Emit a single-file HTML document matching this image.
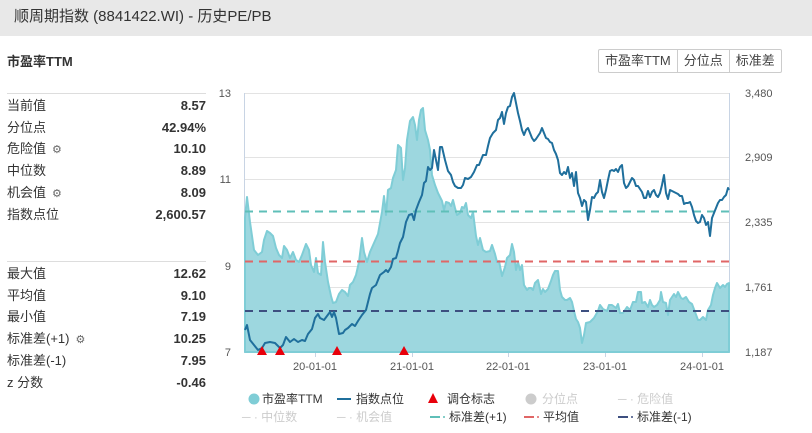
<!DOCTYPE html>
<html><head><meta charset="utf-8"><style>
body{margin:0;width:812px;height:433px;background:#fff;font-family:"Liberation Sans","Noto Sans CJK SC",sans-serif;position:relative;overflow:hidden;color:#333}
.hdr{position:absolute;left:0;top:0;width:812px;height:36px;background:#e8e8e8;font-size:15px;line-height:34px;padding-left:14px;box-sizing:border-box;color:#333}
.ttl{position:absolute;left:7px;top:51px;font-size:13px;font-weight:bold}
.btns{position:absolute;left:598px;top:49px;display:flex;border:1px solid #ccc;border-radius:2px}
.btns div{font-size:13px;padding:0 6px;height:22px;line-height:22px;border-left:1px solid #ccc;color:#444}
.btns div:first-child{border-left:none}
.row{position:absolute;left:7px;width:199px;font-size:13px;height:20px;line-height:20px}
.row b{position:absolute;right:0;top:0}
.sep{position:absolute;left:7px;width:199px;height:1px;background:#ddd}
.g{display:inline-block;font-size:11px;color:#666;margin-left:6px}
</style></head><body>
<div class="hdr">顺周期指数 (8841422.WI) - 历史PE/PB</div>
<div class="ttl">市盈率TTM</div>
<div class="btns"><div>市盈率TTM</div><div>分位点</div><div>标准差</div></div>
<div class="sep" style="top:93px"></div>
<div class="row" style="top:96px">当前值<b>8.57</b></div>
<div class="row" style="top:118px">分位点<b>42.94%</b></div>
<div class="row" style="top:139px">危险值<span class="g">⚙</span><b>10.10</b></div>
<div class="row" style="top:161px">中位数<b>8.89</b></div>
<div class="row" style="top:183px">机会值<span class="g">⚙</span><b>8.09</b></div>
<div class="row" style="top:205px">指数点位<b>2,600.57</b></div>
<div class="sep" style="top:261px"></div>
<div class="row" style="top:264px">最大值<b>12.62</b></div>
<div class="row" style="top:286px">平均值<b>9.10</b></div>
<div class="row" style="top:307px">最小值<b>7.19</b></div>
<div class="row" style="top:329px">标准差(+1)<span class="g">⚙</span><b>10.25</b></div>
<div class="row" style="top:351px">标准差(-1)<b>7.95</b></div>
<div class="row" style="top:373px">z 分数<b>-0.46</b></div>
<svg style="position:absolute;left:0;top:0" width="812" height="433" font-family="Liberation Sans,Noto Sans CJK SC,sans-serif">
<g stroke="#e3e3e3" stroke-width="1">
<line x1="245" y1="93.5" x2="729" y2="93.5"/><line x1="245" y1="179.5" x2="729" y2="179.5"/><line x1="245" y1="266.5" x2="729" y2="266.5"/>
<line x1="245" y1="157.5" x2="729" y2="157.5"/><line x1="245" y1="222.5" x2="729" y2="222.5"/><line x1="245" y1="287.5" x2="729" y2="287.5"/>
</g>
<line x1="244.5" y1="93" x2="244.5" y2="352" stroke="#c8d4e4"/>
<line x1="729.5" y1="93" x2="729.5" y2="352" stroke="#c8d4e4"/>
<line x1="244" y1="352.5" x2="730" y2="352.5" stroke="#c8d4e4"/>
<g stroke="#c8d4e4"><line x1="315.5" y1="352" x2="315.5" y2="357"/><line x1="412.5" y1="352" x2="412.5" y2="357"/><line x1="508.5" y1="352" x2="508.5" y2="357"/><line x1="605.5" y1="352" x2="605.5" y2="357"/><line x1="702.5" y1="352" x2="702.5" y2="357"/></g>
<polygon fill="#9dd7df" stroke="#7fcdd6" stroke-width="2" stroke-linejoin="round" points="245,352 245,218 247,197 250,222 254,250 258,255 262,252 264,240 267,231 270,233 273,236 276,248 279,255 282,258 284,246 287,250 290,258 293,252 296,260 299,262 302,255 306,244 309,250 311,265 314,272 316,258 318,273 321,275 323,242 325,262 328,282 331,296 333,303 336,302 339,294 342,290 345,292 348,296 350,285 353,282 356,275 359,262 362,238 364,252 367,262 370,252 374,243 378,234 382,212 384,196 386,215 388,190 391,188 393,178 396,170 398,145 401,148 403,180 405,168 407,140 410,121 413,117 415,125 417,140 419,120 421,110 423,108 425,130 428,140 430,150 432,175 435,185 438,193 442,201 444,210 446,202 449,203 451,206 453,200 455,208 457,215 460,213 462,207 464,208 466,203 468,215 471,218 473,212 476,236 478,245 480,238 483,250 486,252 490,251 492,245 495,254 497,262 499,261 502,276 505,267 507,258 510,255 512,244 514,252 516,270 518,262 520,270 522,265 524,285 527,290 529,288 531,288 533,290 535,283 538,280 541,294 543,289 545,292 548,289 551,281 553,275 555,271 558,271 560,290 562,297 565,300 567,300 570,298 572,302 574,311 576,319 578,322 580,328 582,343 584,335 586,323 590,322 594,318 598,311 600,305 603,309 607,311 609,305 612,305 616,308 618,304 620,313 623,313 627,307 630,310 633,302 636,302 638,292 641,292 642,303 645,302 648,307 650,300 652,305 654,307 657,305 660,300 661,292 663,302 666,303 668,315 670,300 672,297 674,294 676,297 678,292 681,298 683,299 686,297 689,302 692,304 695,312 698,320 700,320 703,317 706,320 708,310 711,305 713,295 715,288 717,283 720,288 723,285 725,287 727,284 729,283 729,352"/>
<g stroke-width="2" stroke-dasharray="8,6" fill="none">
<line x1="245" y1="211.5" x2="729" y2="211.5" stroke="#5fbfb8"/>
<line x1="245" y1="261.5" x2="729" y2="261.5" stroke="#e06666"/>
<line x1="245" y1="311" x2="729" y2="311" stroke="#3d4f80"/>
</g>
<polyline fill="none" stroke="#1f6f9c" stroke-width="2" stroke-linejoin="round" points="245,330 247,325 250,340 254,345 258,350 262,348 265,343 270,342 275,343 280,348 283,345 286,337 290,342 294,339 298,342 302,340 305,341 308,334 312,329 315,318 318,314 320,318 324,320 327,316 330,312 332,317 334,312 336,318 339,334 343,333 345,330 348,328 352,324 355,326 358,321 362,315 366,310 368,302 370,294 372,288 376,285 380,275 384,272 386,270 388,272 391,267 393,259 396,258 398,251 400,243 403,237 406,222 409,215 412,214 414,220 416,210 419,202 422,195 424,183 426,181 428,167 430,170 432,168 434,150 436,160 438,170 440,147 442,147 445,160 448,171 451,175 453,182 455,186 458,188 461,188 463,185 465,178 468,179 471,177 474,172 477,165 479,165 481,160 483,155 486,155 488,146 490,138 493,133 496,130 498,120 500,118 502,112 504,124 506,113 508,107 510,106 512,97 514,93 516,103 518,113 520,121 522,130 524,135 526,130 528,128 530,133 532,138 534,141 536,139 538,136 540,133 542,128 544,133 546,138 548,139 550,142 552,143 554,150 556,154 558,160 560,173 562,175 564,172 566,174 568,167 570,178 572,173 574,186 576,172 578,193 580,198 582,206 584,200 586,202 588,220 590,210 592,197 594,198 596,194 598,192 600,180 602,192 604,198 606,190 608,180 610,171 612,170 614,171 616,169 618,172 620,167 622,165 624,183 626,188 628,186 630,182 632,178 634,180 636,186 638,186 642,192 644,198 646,198 648,191 650,197 652,192 654,190 656,195 658,197 660,193 662,185 664,175 666,193 668,199 670,190 672,191 676,193 678,194 680,196 682,196 684,204 686,203 688,203 690,202 692,207 694,215 696,221 698,223 700,222 702,215 704,218 706,225 708,222 710,236 712,218 714,213 716,208 718,203 720,200 722,200 724,197 726,195 728,188 729,190"/>
<g fill="#e8000b"><polygon points="262,346 257,355 267,355"/><polygon points="280,346 275,355 285,355"/><polygon points="337,346 332,355 342,355"/><polygon points="404,346 399,355 409,355"/></g>
<g font-size="11" fill="#555">
<text x="231" y="97" text-anchor="end">13</text><text x="231" y="183" text-anchor="end">11</text><text x="231" y="270" text-anchor="end">9</text><text x="231" y="356" text-anchor="end">7</text>
<text x="745" y="97">3,480</text><text x="745" y="161">2,909</text><text x="745" y="226">2,335</text><text x="745" y="291">1,761</text><text x="745" y="356">1,187</text>
<text x="315" y="370" text-anchor="middle">20-01-01</text><text x="412" y="370" text-anchor="middle">21-01-01</text><text x="508" y="370" text-anchor="middle">22-01-01</text><text x="605" y="370" text-anchor="middle">23-01-01</text><text x="702" y="370" text-anchor="middle">24-01-01</text>
</g>
<g font-size="12">
<circle cx="254" cy="399" r="5.5" fill="#7fcdd6"/><text x="262" y="403" fill="#333">市盈率TTM</text>
<line x1="337" y1="399" x2="351" y2="399" stroke="#1f6f9c" stroke-width="2"/><text x="356" y="403" fill="#333">指数点位</text>
<polygon points="433,393 428,403 438,403" fill="#e8000b"/><text x="447" y="403" fill="#333">调仓标志</text>
<circle cx="531" cy="399" r="5.5" fill="#ccc"/><text x="542" y="403" fill="#ccc">分位点</text>
<text x="618" y="403" fill="#ccc">─ · 危险值</text>
<text x="242" y="421" fill="#ccc">─ · 中位数</text>
<text x="337" y="421" fill="#ccc">─ · 机会值</text>
<line x1="430" y1="417" x2="440" y2="417" stroke="#5fbfb8" stroke-width="2"/><circle cx="444" cy="417" r="1" fill="#5fbfb8"/><text x="449" y="421" fill="#333">标准差(+1)</text>
<line x1="524" y1="417" x2="534" y2="417" stroke="#e06666" stroke-width="2"/><circle cx="538" cy="417" r="1" fill="#e06666"/><text x="543" y="421" fill="#333">平均值</text>
<line x1="618" y1="417" x2="628" y2="417" stroke="#3d4f80" stroke-width="2"/><circle cx="632" cy="417" r="1" fill="#3d4f80"/><text x="637" y="421" fill="#333">标准差(-1)</text>
</g>
</svg>
</body></html>
